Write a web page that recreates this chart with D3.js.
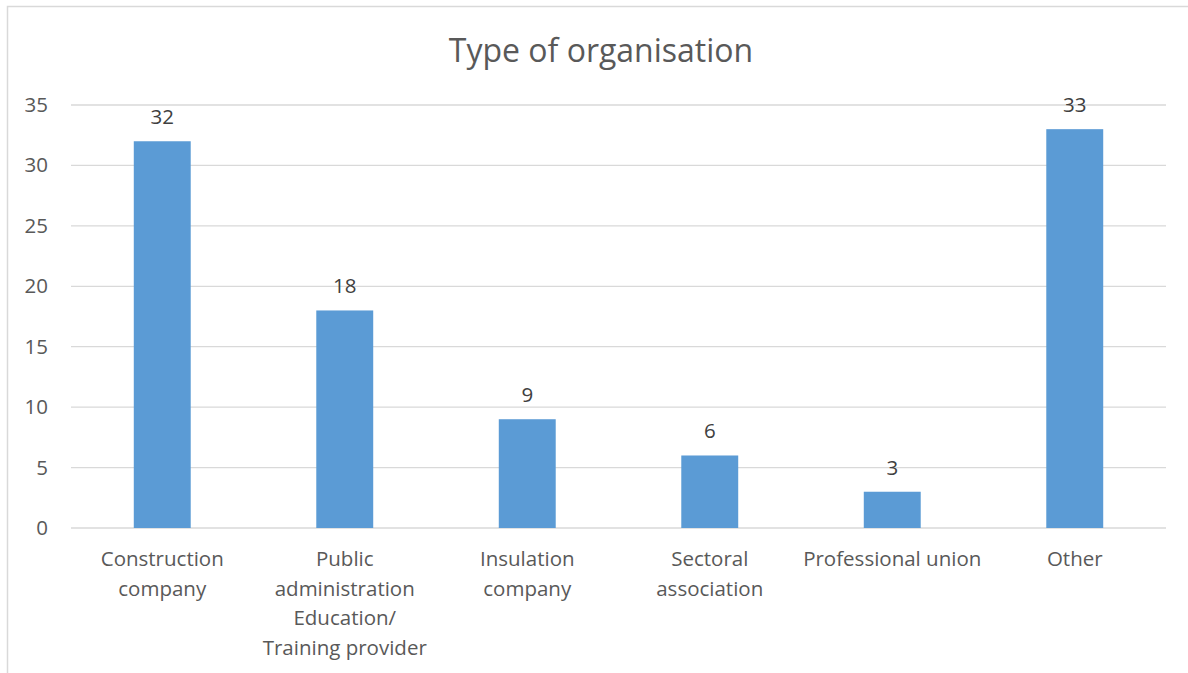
<!DOCTYPE html>
<html><head><meta charset="utf-8">
<script src="https://cdn.jsdelivr.net/npm/d3@7"></script>
<style>body{margin:0;background:#fff}svg{display:block;font-family:"Open Sans",sans-serif}</style>
</head><body>
<script>
const categories = [
  ["Construction", "company"],
  ["Public", "administration", "Education/", "Training provider"],
  ["Insulation", "company"],
  ["Sectoral", "association"],
  ["Professional union"],
  ["Other"]
];
const categoryNames = ["Construction company", "Public administration Education/ Training provider", "Insulation company", "Sectoral association", "Professional union", "Other"];
const values = [32, 18, 9, 6, 3, 33];
const yTicks = [0, 5, 10, 15, 20, 25, 30, 35];
const title = "Type of organisation";

const W = 1188, H = 673;
const svg = d3.select("body").append("svg").attr("width", W).attr("height", H);
svg.append("rect").attr("x", 7.5).attr("y", 6.5).attr("width", W + 10).attr("height", H + 10)
  .attr("fill", "#fff").attr("stroke", "#d9d9d9").attr("stroke-width", 1.5);

const x = d3.scaleBand().domain(categoryNames).range([71, 1166]).paddingInner(0.688).paddingOuter(0.344);
const y = d3.scaleLinear().domain([0, 35]).range([528, 105]);

svg.append("text").attr("x", 601).attr("y", 62).attr("text-anchor", "middle")
  .attr("font-size", 32).attr("fill", "#595959").text(title);

const grid = svg.append("g");
grid.selectAll("line").data(yTicks).join("line")
  .attr("x1", 71).attr("x2", 1166).attr("y1", d => y(d)).attr("y2", d => y(d))
  .attr("stroke", "#d9d9d9").attr("stroke-width", 1.3);

const yAxis = d3.axisLeft(y).tickValues(yTicks).tickSize(0).tickPadding(23);
const ya = svg.append("g").attr("transform", "translate(71,0)").call(yAxis);
ya.select(".domain").remove();
ya.selectAll("text").attr("font-size", 20.5).attr("fill", "#595959").attr("font-family", "Open Sans");

svg.append("g").selectAll("rect").data(values).join("rect")
  .attr("x", (d, i) => x(categoryNames[i])).attr("width", x.bandwidth())
  .attr("y", d => y(d)).attr("height", d => y(0) - y(d)).attr("fill", "#5b9bd5");

svg.append("g").selectAll("text").data(values).join("text")
  .attr("x", (d, i) => x(categoryNames[i]) + x.bandwidth() / 2)
  .attr("y", d => y(d) - 17).attr("text-anchor", "middle")
  .attr("font-size", 20.5).attr("fill", "#404040").text(d => d);

const xl = svg.append("g");
categories.forEach((lines, i) => {
  const cx = x(categoryNames[i]) + x.bandwidth() / 2;
  const t = xl.append("text").attr("text-anchor", "middle").attr("font-size", 20.5).attr("fill", "#595959");
  lines.forEach((ln, j) => {
    t.append("tspan").attr("x", cx).attr("y", 566 + j * 29.7).text(ln);
  });
});
</script>
</body></html>
